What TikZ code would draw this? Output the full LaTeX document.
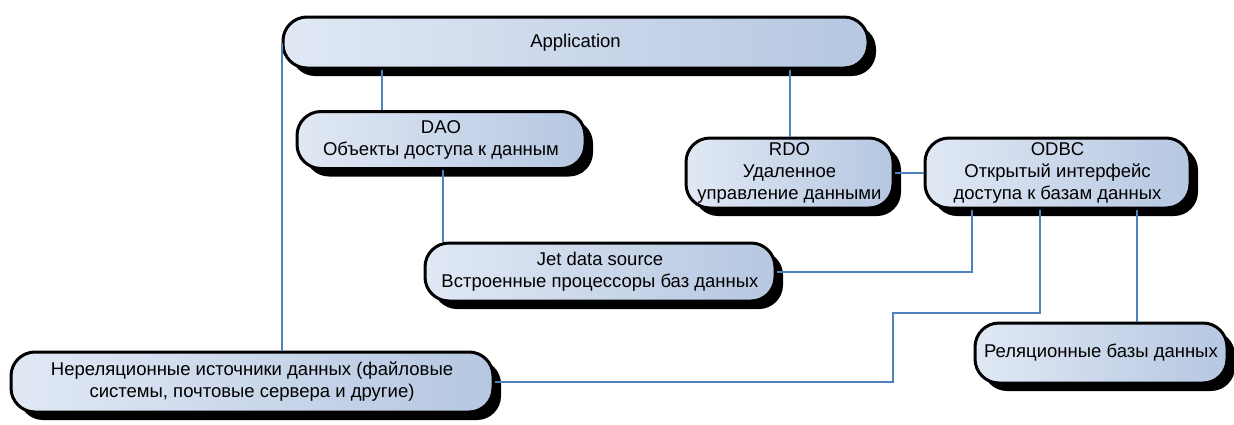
\documentclass[tikz,border=0pt]{standalone}
\usepackage{fontspec}
\setmainfont{Liberation Sans}
\usetikzlibrary{shadows}
\definecolor{boxL}{HTML}{E0E8F4}
\definecolor{boxR}{HTML}{B6C7E1}
\definecolor{link}{HTML}{4F81BD}
\tikzset{
  box/.style={draw=black, line width=3pt, rounded corners=24pt,
    left color=boxL, right color=boxR, align=center, inner sep=1pt,
    font=\fontsize{18.5}{22}\selectfont,
    drop shadow={shadow xshift=8pt, shadow yshift=-8pt, fill=black, opacity=1}},
  link/.style={draw=link, line width=2pt}
}
\begin{document}
\begin{tikzpicture}[x=1pt,y=-1pt]
\useasboundingbox (0,0) rectangle (1234,424);
\node[box, minimum width=585pt, minimum height=51pt] (app) at (575.5,42.5) {Application};
\node[box, minimum width=288pt, minimum height=57pt] (dao) at (441,140) {DAO\\Объекты доступа к данным};
\node[box, minimum width=207pt, minimum height=70pt] (rdo) at (789.5,173) {RDO\\Удаленное\\управление данными};
\node[box, minimum width=265pt, minimum height=70pt] (odbc) at (1057.5,173) {ODBC\\Открытый интерфейс\\доступа к базам данных};
\node[box, minimum width=350pt, minimum height=58pt] (jet) at (600,272) {Jet data source\\Встроенные процессоры баз данных};
\node[box, minimum width=482pt, minimum height=60pt] (nr) at (252,382) {Нереляционные источники данных (файловые\\системы, почтовые сервера и другие)};
\node[box, minimum width=252pt, minimum height=60pt] (rel) at (1101,353) {Реляционные базы данных};
\coordinate (bend) at (893,313);
\draw[link] (app.south -| 382,0) -- (dao.north -| 382,0);
\draw[link] (app.south -| 790,0) -- (rdo.north -| 790,0);
\draw[link] (app.west) -- (app.west |- nr.north);
\draw[link] (dao.south -| 443,0) -- (jet.north -| 443,0);
\draw[link] (odbc.west) -- (rdo.east);
\draw[link] (odbc.south -| 972,0) |- (jet.east);
\draw[link] (odbc.south -| 1040,0) |- (bend) |- (nr.east);
\draw[link] (odbc.south -| 1137,0) -- (rel.north -| 1137,0);
\end{tikzpicture}
\end{document}
